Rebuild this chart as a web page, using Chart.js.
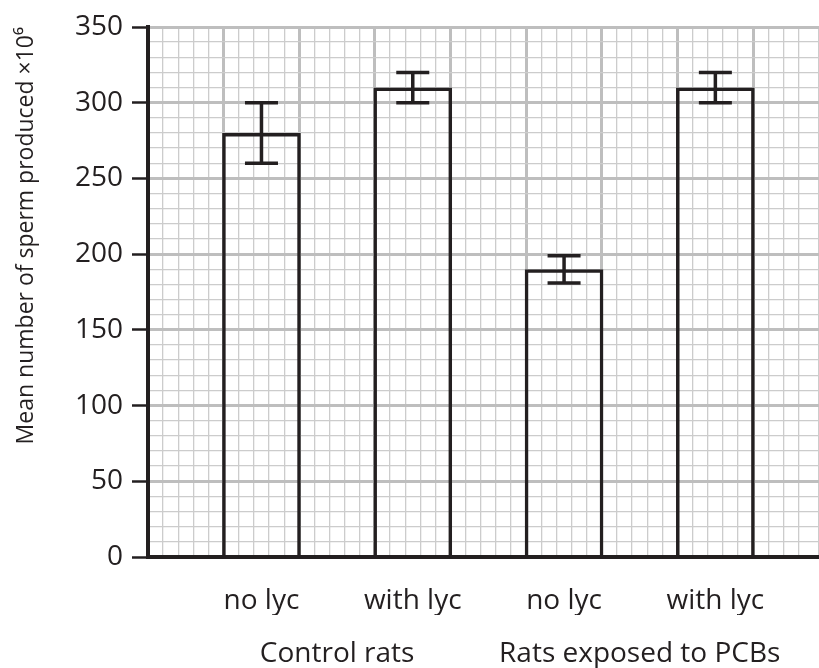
<!DOCTYPE html>
<html>
<head>
<meta charset="utf-8">
<script src="https://cdn.jsdelivr.net/npm/chart.js@4.4.1/dist/chart.umd.min.js"></script>
<style>
    html, body { margin: 0; padding: 0; background: #fff; }
    #wrap { width: 819px; height: 668px; }
</style>
</head>
<body>
<div id="wrap"><canvas id="grafico"></canvas></div>
<script>
// data
var groups = ['Control rats', 'Rats exposed to PCBs'];
var treatments = ['no lyc', 'with lyc', 'no lyc', 'with lyc'];
var meanSperm = [280, 310, 190, 310];
var errLow = [260, 300, 181, 300];
var errHigh = [300, 320, 199, 320];
var yTickLabels = [0, 50, 100, 150, 200, 250, 300, 350];

var black = '#231f20';
// x runs in big grid squares; the paper keeps going past the right edge
var xMax = 8.87;

function isMajorX(v) {
    return Math.abs(v - Math.round(v)) < 1e-6;
}

// error bars drawn over the bars
var errorBars = {
    id: 'errorBars',
    afterDatasetsDraw: function (chart) {
        var c = chart.ctx;
        var y = chart.scales.y;
        var meta = chart.getDatasetMeta(0);
        c.save();
        c.strokeStyle = black;
        c.lineWidth = 3.5;
        meta.data.forEach(function (bar, i) {
            var top = y.getPixelForValue(errHigh[i]);
            var bot = y.getPixelForValue(errLow[i]);
            var half = 16.5;
            c.beginPath();
            c.moveTo(bar.x, top);
            c.lineTo(bar.x, bot);
            c.moveTo(bar.x - half, top);
            c.lineTo(bar.x + half, top);
            c.moveTo(bar.x - half, bot);
            c.lineTo(bar.x + half, bot);
            c.stroke();
        });
        c.restore();
    }
};

var fontLabel = {family: 'Open Sans', size: 28, lineHeight: 1};

var ctx = document.getElementById('grafico').getContext('2d');
new Chart(ctx, {
    type: 'bar',
    data: {
        datasets: [{
                data: meanSperm.map(function (v, i) {
                    return {x: 1.5 + 2 * i, y: v};
                }),
                backgroundColor: 'rgba(0,0,0,0)',
                borderColor: black,
                borderWidth: 3.5,
                categoryPercentage: 0.5,
                barPercentage: 1.04
            }]
    },
    plugins: [errorBars],
    options: {
        responsive: true,
        maintainAspectRatio: false,
        animation: false,
        layout: {
            padding: {top: 27, left: 0, right: 0, bottom: 0}
        },
        plugins: {
            legend: {display: false},
            tooltip: {enabled: false}
        },
        scales: {
            x: {
                type: 'linear',
                position: 'bottom',
                weight: 0,
                min: 0,
                max: xMax,
                offset: false,
                afterBuildTicks: function (s) {
                    s.ticks = treatments.map(function (t, i) {
                        return {value: 1.5 + 2 * i};
                    });
                },
                ticks: {
                    autoSkip: false,
                    maxRotation: 0,
                    padding: 0,
                    color: black,
                    font: fontLabel,
                    callback: function (value, index) {
                        return treatments[index];
                    }
                },
                // invisible tick marks only used as spacing under the axis
                grid: {
                    offset: false,
                    drawOnChartArea: false,
                    tickLength: 30,
                    tickColor: 'rgba(0,0,0,0)'
                },
                border: {display: true, color: black, width: 4}
            },
            xGroup: {
                type: 'linear',
                position: 'bottom',
                weight: 1,
                min: 0,
                max: xMax,
                offset: false,
                afterBuildTicks: function (s) {
                    s.ticks = groups.map(function (g, i) {
                        return {value: 2.5 + 4 * i};
                    });
                },
                ticks: {
                    autoSkip: false,
                    maxRotation: 0,
                    padding: 0,
                    color: black,
                    font: fontLabel,
                    callback: function (value, index) {
                        return groups[index];
                    }
                },
                grid: {
                    offset: false,
                    drawOnChartArea: false,
                    tickLength: 25,
                    tickColor: 'rgba(0,0,0,0)'
                },
                border: {display: false}
            },
            xGrid: {
                type: 'linear',
                position: 'top',
                min: 0,
                max: xMax,
                offset: false,
                ticks: {display: false, stepSize: 0.2, maxTicksLimit: 1000},
                grid: {
                    offset: false,
                    drawTicks: false,
                    color: function (c) {
                        return isMajorX(c.tick.value) ? 'rgb(190,190,190)' : 'rgb(204,204,204)';
                    },
                    lineWidth: function (c) {
                        return isMajorX(c.tick.value) ? 3 : 1.3;
                    }
                },
                border: {display: false}
            },
            y: {
                min: 0,
                max: 350,
                ticks: {
                    stepSize: 10,
                    autoSkip: false,
                    padding: 9,
                    color: black,
                    font: {family: 'Open Sans', size: 28},
                    callback: function (value) {
                        return yTickLabels.indexOf(value) >= 0 ? value : '';
                    }
                },
                grid: {
                    color: function (c) {
                        return c.tick.value % 50 === 0 ? 'rgb(190,190,190)' : 'rgb(204,204,204)';
                    },
                    lineWidth: function (c) {
                        return c.tick.value % 50 === 0 ? 3 : 1.3;
                    },
                    tickColor: function (c) {
                        return c.tick.value % 50 === 0 ? black : 'rgba(0,0,0,0)';
                    },
                    tickLength: 16,
                    tickWidth: 2.5
                },
                border: {color: black, width: 4},
                title: {
                    display: true,
                    text: 'Mean number of sperm produced ×10⁶',
                    align: 'end',
                    color: black,
                    font: {family: 'Open Sans', size: 23},
                    padding: {top: 13, bottom: 0}
                },
                afterFit: function (s) {
                    s.width = 148;
                }
            }
        }
    }
});
</script>
</body>
</html>
